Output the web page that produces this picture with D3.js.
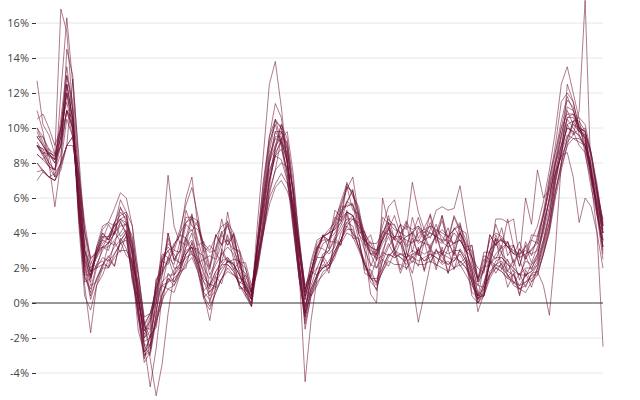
<!DOCTYPE html>
<html><head><meta charset="utf-8">
<script src="https://cdn.jsdelivr.net/npm/d3@7"></script>
<style>body{margin:0;background:#fff}svg{display:block}</style>
</head><body><svg id="c" width="640" height="400"></svg>
<script>
const yTicks = [-4,-2,0,2,4,6,8,10,12,14,16];
const s01 = [12.7,10.2,9.6,8.5,16.8,15.5,11,6.5,3.5,1.5,3.2,4.4, 4.6,4.4,5.9,5.2,4.4,0.8,-1.2,-2.6,0.9,1.6,4,2.4, 3,5.3,4.4,4.2,3.2,2.9,3,4.8,3.5,4,2,1.7, 0.6,3.4,6.4,9.5,11.4,10.6,8,5.6,2.4,-0.6,1.8,3.2, 3.1,2.8,3.2,5.3,5.7,6.5,4,4.1,2.1,2.9,3.7,5, 3.6,4.5,2.9,4.9,3.7,4.3,5,3.4,5,3.7,5,4.2, 4,2.2,1.4,1.9,3.9,3.3,3.7,3.2,3.3,2.1,3.5,2.7, 3.8,5.2,7.2,8.6,10.4,11.8,11,10,9.4,7.8,5.4,3.2];
const s02 = [9,8.5,7.8,7.2,12,16.3,12.5,7.2,3,1.8,2,2.6, 2.4,2.8,3.4,3.8,1.5,-0.8,-3.4,-2.8,-0.8,0.5,1.2,1.4, 1.8,2.8,3.2,2,1.2,0.4,1.2,2.2,2.2,1.8,1,0.6, -0.2,2.2,4.5,7,8.6,9.2,8.6,6.4,3,0.4,1.8,1.6, 2,2.2,3,3.6,4.6,4.4,3.2,2.2,1.2,0.8,2,2.8, 2.6,2.8,2.6,3,2.8,2.4,2.8,2.6,2.2,2.4,2,2.4, 2,1.4,0.4,0.4,1.4,2,2.2,1.6,1,0.8,0.6,1.2, 1.6,2.8,4.2,6.4,8,9.4,10.4,10.6,10.2,8.6,6.8,4.4];
const s03 = [11,9.8,8,5.5,8,14.5,13,8,3,1,1.2,2.2, 2.7,2.1,3.7,3.1,2,-1.6,-2.8,-2,1.4,1.7,4,2.5, 2.3,3.7,2.8,2.5,0.7,1.1,0.9,3.1,2.4,2.3,1.1,1.6, 0.6,2,4.4,7,8.4,9.4,9.2,7,3.4,-0.2,1.4,3, 3.9,3.5,5.3,4.9,6.9,6.1,5.5,3.5,3.9,2.7,4.9,4.5, 4.5,3.6,4.6,2.9,4.3,3.6,4.6,4,5,3.1,4.3,3.8, 2.9,3.3,1.3,2.9,2.9,4.5,3.5,3.5,2.8,3.5,2.5,3.1, 3.4,5,6.6,8.2,10,11.6,11.2,9.6,8.8,7.2,5.8,4];
const s04 = [7,7.5,7.2,7.4,8,9,9.5,7.5,4.6,2.5,3,4.2, 4.6,5.4,6.3,6,4.4,1.8,-1,-3.2,-5.3,-3.5,-0.6,1.6, 2.2,2.6,2.8,2,0.4,-0.2,0.6,1.4,2,1.6,1.4,1.2, 0.6,2,4,6.6,8.8,10.2,9.4,6.4,3,0.6,2.4,3.6, 3.8,4,4.2,5,5.8,6.4,4.8,3.6,3.2,2.4,3.8,4.2, 3.8,3.4,3.8,4,3.4,3.6,3.8,4.2,3.8,3.4,4,3.6, 3,1.8,0.2,0.6,2.4,2,1.8,1.4,1.6,0.8,1.2,1.6, 1.6,2.8,4.2,6.2,8,9.4,10.2,10,9.8,8.4,6.4,4.2];
const s05 = [10,9.2,8.4,8.2,10,13,11,5,1,-1.7,1,2, 3.4,4.6,3.8,4.2,1.4,0.2,-2,-1.2,1,2.8,2.6,3.4, 3.8,6,7.2,4.4,3.3,1.9,3.9,3.3,4.7,3.1,2.9,0.4, 0,3.6,6.8,9.2,10.2,9,7,4.2,1.4,-0.8,0.6,1.6, 2.5,1.7,3.7,3.3,5.1,3.7,3.7,1.7,1.5,0.7,2.5,2.1, 2.9,1.7,2.6,1.7,3.2,1.8,3,1.9,3.2,1.7,3.1,2.1, 2.4,0.4,0,0.4,2.5,2.1,2.9,1.5,1.9,0.5,1.7,0.9, 2,3.4,5,7.4,9,10.6,10.6,10,9.4,7.4,5.2,2.8];
const s06 = [9,8.5,8.8,8.2,9,12.5,10.5,5.5,2,1.2,3.2,4, 3.6,4.4,4.8,4.6,2.8,0.4,-2.2,-2,0,3.5,7.3,4.4, 3.4,4.6,5,3.6,2.4,2,3.2,4,4.4,3.6,2.4,1.2, 0.2,4.5,8.5,12.5,13.8,11.2,8,4.6,1.4,-0.4,1.4,2.8, 3.8,4.2,4.6,5.8,6.8,6.2,5,3.8,2.8,3,3.6,4.6, 3,2.6,2.2,2.8,2.8,2.4,2.6,3,2.6,2.2,2.6,2.4, 2,1.2,0,0.8,1.6,2.2,2.4,1.8,1.6,1,1.6,1.8, 2.2,3.6,5.2,7.2,8.6,9.6,9.4,9.4,9,7.2,5.8,4.4];
const s07 = [9.5,9,8.5,8,9,11,9.5,6,2.4,1.6,3,3.2, 3.8,4,5.2,4.8,3.4,0.6,-2.4,-4.8,-2.6,0.4,1.4,1.2, 1.8,2.8,3.4,2.6,1.8,0.6,1.2,1.8,2.4,2.2,1.6,0.6, 0.2,2.2,4.6,7,9,10.2,9,6.2,1.8,-4.5,-1,1.4, 2.2,2,2.8,4,4.6,5,3.6,2.2,1.6,1.2,2.4,3.2, 3.8,3.8,3.6,3.4,4,4.2,4.4,3.6,3.4,3.8,3.4,4, 3.4,2.6,1.2,1.8,3,3.6,3.6,3.2,2.8,2.8,3,2.8, 3,4.4,6,7.8,9.4,10.6,10.8,10.2,9.6,8.4,6.4,4.4];
const s08 = [8,7.6,7.2,7,7.6,9,9.5,7.5,4,2,2.6,3.2, 3,4.1,3.5,4.1,2.1,1.2,-1.3,-0.6,0,2.4,2.2,3.3, 3.9,3.7,5.1,3.3,3.5,2.1,3.9,3.3,4.5,3.1,3,1.3, 0.6,2.6,4.2,6,6.8,7.4,6.8,5.6,3.4,0.8,1.8,3.2, 3.6,3.6,4.4,4.8,5.2,5,4.2,3.6,3.2,3,4.4,5.5, 5.9,4.5,4.2,6.9,5.2,4.2,4,3.8,4.2,3.8,4.2,4.6, 3.2,3.3,1.4,2.7,2.5,3.9,3.1,3.5,2.1,3.1,2.7,3.9, 3.8,5,6.4,7.4,8.4,9.2,9.6,10,9.8,8.6,6.6,4.6];
const s09 = [8.5,8.2,8.6,8.4,9,12.5,10.5,6,2.4,0.4,1.4,2, 2,2.8,3.4,3.6,1.6,-0.5,-2.8,-2.4,-1,0.5,1.4,1, 1.6,2.4,3,1.8,0.2,-0.4,0.6,1.4,2.2,1.8,1,0.4, -0.2,3,6,8.6,10.4,10,8.4,5.2,2.2,-0.6,1.4,2.6, 2.6,3,3.6,4.2,4.8,4.8,4.4,3.4,2.8,2.6,3.4,4, 3.6,3.4,2.6,1.2,-1.1,0.5,2.2,3,2.8,2.6,2.4,3, 2.4,1.2,0,0.6,1.8,2.2,2,1.6,1.2,0.8,1,1.6, 2.2,3.2,4.6,6.8,8.6,10.2,10.4,9.8,9.4,7.8,6.2,3.6];
const s10 = [9,8.8,8,7.6,9.5,11,10,5,1.2,1.4,2.8,3.6, 4.5,3.9,5.5,4.6,3.6,0,-1.4,-1.5,1.3,1.9,3.7,2.5, 3,4.9,4.9,4.7,2.5,2.7,2.5,3.9,3.3,3.9,2.3,2, 0.6,3.2,5.4,8.2,9.8,9.2,7.4,4.4,1.4,-0.6,0.6,1.4, 2.7,2.1,3.5,3.3,5.3,3.9,3.7,1.9,1.9,1.1,2.9,2.7, 3,2.8,2.8,2.6,3,3.4,4.2,5.3,5.5,5.3,5.4,6.7, 4.6,2.6,2,1.7,3.9,3.3,4.3,2.7,3.3,2.1,3.3,2.3, 3.2,4.2,6,8,9.6,11.2,11,10,9.2,7.4,5.2,3.2];
const s11 = [8.5,8.2,7.8,7.6,8.5,11,10,6.5,2.6,1.8,2.6,3.8, 3.6,4.6,5,5.2,3.2,1,-1.6,-1,0.4,2.6,3.2,2.8, 2.2,3,3.2,2.2,1.2,0.8,1.6,2,2.4,2.2,1.6,1, 0.4,2.6,4.8,7,8.4,8.8,7.6,5.6,3,0.4,1.8,3, 3.8,3.6,4.4,5.2,5.6,5.6,4.6,3.6,2.8,2.8,3.6,4.4, 2.8,2.6,2.4,2.6,2.4,2.6,2.8,2.6,2.4,2.2,2.4,2.8, 2.2,1.2,0.2,1,2.2,2.8,3.2,4.8,3.2,2.6,6,4.5, 7.6,6,6.5,8,9,10,9.8,9.6,9,8,6.5,4.5];
const s12 = [9,8.6,8.5,8.2,9.5,12,10.5,6,2,0.2,1.4,2.2, 2.1,3.5,2.9,3.9,1.2,-0.2,-3.2,-1.8,-1.4,1,1.2,1.9, 2.2,3.2,3.6,2.8,1.6,1,1.8,2.2,2.6,2,1,0.6, 0,2.4,5,8,9,9.4,8,5.2,2.2,0.2,1.8,3, 3.9,3.1,4.9,4.7,6.7,5.3,5.1,3.3,3.5,2.5,4.1,3.9, 3.7,4.5,3.3,4.1,3.5,4.1,3.7,4.5,3.5,4.3,3.1,4.5, 3,2.6,0.4,2.1,2.1,3.7,1.9,2.5,1.1,1.7,0.9,1.7, 1.8,1,-0.7,3,8,12.5,11.5,10,9,7.5,5.5,3];
const s13 = [10,9.5,8.6,8,9.5,12,10,5.5,2.2,1.4,2.8,4, 3.6,4.2,4.8,4.4,2.8,0.4,-2,-1.6,-0.4,1.2,1.6,1.6, 2,2.8,3.2,2.2,1.4,1,1.8,2.4,2.6,2.2,1.6,1, 0.4,3.4,6,8,9.8,9.8,8.2,5,1.8,-0.2,0.8,1.6, 2,2.4,3,3.6,4.2,4.2,3.2,2.2,1.4,1.4,2,2.8, 2.6,2.8,2.6,2.8,3,2.8,3,2.8,3,2.8,3,3, 2.4,1.4,0.4,1.2,2.2,2.6,2.6,2.2,1.8,1.6,2,2, 2.6,3.6,5,7,8.6,10.2,9.6,11,17.3,7,4,-2.5];
const s14 = [8,7.5,7.2,7,7.8,9,9,7,4.2,2.4,2,2.2, 2.6,3.2,3.6,4,3.4,1.6,-0.8,-0.6,0.8,1.8,2.4,3, 2.9,4.5,4.1,4.7,2.9,3.3,2.9,4.1,3.3,3.9,2.3,2.3, 1,2.4,4,5.6,6.6,7,6.4,5.4,3.4,1,1.8,2.6, 3.4,3.6,4,4.6,5.2,5,4.4,3.8,3,2.8,3.6,4.2, 5,3.9,4.7,3.9,4.9,3.7,5.1,3.9,4.7,3.5,4.9,4.1, 3.1,3,1.2,2.5,2.3,3.7,2.9,3.5,2.3,3.1,2.5,3.6, 3.4,4.6,5.8,7.4,8.4,8.6,7.2,4.6,6,5.5,4,2];
const s15 = [9.5,9.5,8.8,8.5,10,13,11.5,7,3,2.2,3,3.6, 3.4,4,4.6,4,2,-0.8,-3,-2.8,-0.6,2.5,3,2, 2,3.2,4,2.4,0.5,-1,1,3,5.2,3.4,1.6,0.8, 0.2,3.6,7,9.5,10.5,10,8.8,6,2.5,-1.5,0.4,1.5, 2.5,3.5,4.5,5.5,6.5,7.2,5,3,0.5,0,6,4.5, 3.6,3.8,3.2,3.5,3.6,3.4,3.3,3.8,3.5,3.2,3.4,3.6, 3,2,-0.5,0.5,2.5,4.8,4.8,4.6,4.8,2.5,1.5,2.2, 2.5,4.5,7,9,11.5,12,11.5,10,9.5,7.5,5,2.5];
const s16 = [9,8.4,7.8,7.6,10,12.5,10.5,4.5,0.4,-0.4,1,1.6, 2.5,2.1,3.5,2.7,2.4,-0.8,-2.4,-3,-1,0,1.7,1.2, 1.9,3.7,3.1,3.1,0.3,0.7,0.9,2.9,2.3,2.5,0.8,0.9, -0.2,2.8,5.8,8.4,9.4,9.2,7.4,4.6,1.6,-1.2,0.4,1, 1.8,2,2.8,3.6,4.4,4,3.2,2.4,1.4,1,1.8,2.6, 3.1,1.9,2.9,2.3,3.1,1.9,3.3,2.1,2.9,1.7,2.9,2.3, 2.6,0.6,0.3,0.4,2.4,1.7,2.3,0.9,1.7,0.4,1.9,1.2, 2,3,4.4,7,8.8,10,9.8,9,8.6,6.6,5,3.6];
const s17 = [10.5,10.8,10,9,10,11.5,9.8,5.4,1.6,1.6,3,3.8, 3.8,4.4,4.8,5,3,0.4,-1.8,-1,0.6,2.4,3.4,3, 4,4.6,4.8,4.4,3.4,3,3.8,4.4,4.6,4,3,2, 0.8,3.2,5.2,7.4,8.8,9.8,8.8,6.4,3,0.2,1.8,3.2, 3.8,4,4.2,4.6,5.8,5.6,4.8,4,3.2,3,4,4.6, 4.2,4,4.4,4.2,4.4,3.8,4,3.8,3.6,3.6,3.4,3.6, 3,2,1,2,3,3.4,3.6,3.2,2.8,2.6,2.8,3, 3.6,5,6.8,8.6,10,10.8,10.8,9.8,9.6,7.2,5.2,3.2];
const s18 = [9.5,9,8.5,8.2,10.5,13.5,11,5,1.5,0.6,2,3.2, 3.4,4,4.4,4.5,2.2,-0.2,-3,-2.6,-0.6,1.6,2.6,2.2, 3.5,3.3,4.9,2.9,2.7,0.9,2.9,2.3,3.9,2.5,2.4,0.9, 0.2,3.2,6.2,9,10.5,9.2,8.2,5,1.8,-1,0.8,1.6, 2.5,3.5,3.5,5.5,5.5,5.7,3.9,3.5,1.5,2.5,2.7,4.3, 3.1,3.9,2.5,3.9,2.7,3.9,3.1,4,2.8,3.5,2.8,4.1, 2.6,1.6,0.2,1,2.4,3.4,2.8,2.4,2,1.6,2.4,2.2, 2.8,4.2,6,8,9.6,11,10.2,9.8,10,7.5,6,4];
const s19 = [7.5,7.6,7.2,7,8,10.5,9.5,6,2.5,1.5,2.2,2.4, 2,2.6,3,3,2.4,0.8,-1.2,-0.6,0.6,1,0.8,0.6, 1.6,2.2,2.6,1.8,0.6,0.2,0.8,1.4,1.8,1.6,1.2,1, 0.6,2.4,4.2,6.4,7.6,8,7.8,6.6,3.8,0.8,1.6,2, 2,2.2,2.8,3.4,4,3.8,3,2.2,1.4,1.2,1.8,2.4, 2.2,2.2,2,2.4,2.2,2.2,2.4,2.2,2,1.8,2,2.2, 1.6,1,0.4,0.8,1.6,2,1.8,1.4,1.2,1,1.2,1.4, 1.8,2.8,4,6,7.6,9,9.4,9.2,9,7.6,6.2,4.8];
const s20 = [9,8.8,8.6,8.4,9.8,12,10,5.5,1.5,0.8,2.2,3, 3.5,3.3,4.7,3.9,3,-0.4,-2.4,-2.4,0.2,1,2.6,1.6, 2.8,3.8,4.2,3.2,2,1.4,2.2,2.8,3.2,2.8,1.8,1, 0.2,3,5.5,8,9.5,9.5,8,5,2,-0.8,1,2, 2.8,3,3.8,4.4,5.2,5,4,3,2.2,2,3,3.8, 3,3.7,2.5,3.7,2.8,3.7,3,3.9,2.7,3.5,2.7,4, 3.3,1.4,1,0.9,2.9,2.5,3.3,1.8,2.5,1.3,2.7,1.9, 2.8,4,5.5,7.5,9,10.5,10,9.5,9,7.5,5.5,3.5];
const s21 = [9.2,8.6,8,7.6,9,11,10.5,6.5,3,1.8,2.8,3.4, 3.8,4.6,5.4,5,2.6,0.2,-1.6,-0.8,1,2.4,3,3.2, 4.2,5.6,6.6,5,3,1.6,2.4,3.4,3.6,3,2.2,0.8, 0.4,3.4,5.6,7.6,8.4,8.2,7,5,3,0.6,2.2,3.4, 3.8,4,4.8,5.6,6.6,6.4,5.2,4,3.4,3.4,4,4.8, 4.4,4,3.8,4,4.4,4,4.4,4.2,4,3.8,4.2,4.4, 3.6,2.6,1.4,2.2,3.6,4,3.8,3.2,3,2.8,3.2,3.6, 4.4,5.8,7.6,9.8,12.5,13.5,12,10.5,8.5,7,5.5,4];
const s22 = [9.8,9,8.4,7.2,8,9,12.8,8.5,4,2.6,2.8,3.2, 3.2,3.6,4,4.6,3.8,1.6,-1.2,-2,-1.2,0.2,0.8,1, 1.8,2,3.5,2.3,2.5,0,1.5,1.1,2.5,1.9,2.4,0.7, 0.6,1.8,4,6.2,7.6,9.4,9.8,7.4,3.6,0.8,0.4,1.2, 1.6,2,2.6,3.6,4.4,4.8,4.6,3.8,2.8,2,2.6,3.4, 2.7,3.5,1.9,2.7,2.1,3.5,2.3,3.1,2.3,3.1,1.9,3.1, 2.6,1.8,0.6,0.4,1.6,2.4,2.6,2.2,2,1.6,1.6,1.8, 2.4,3.4,4.6,6.4,7.8,9,10.4,10.4,9.8,8.6,6.4,4];
const seriesList = [s01,s02,s03,s04,s05,s06,s07,s08,s09,s10,s11,s12,s13,s14,s15,s16,s17,s18,s19,s20,s21,s22];

const svg = d3.select("#c");
const y = d3.scaleLinear().domain([-4,16]).range([373,23]);
const x = d3.scaleLinear().domain([0,95]).range([37,603]);

const grid = svg.append("g");
grid.selectAll("line").data(yTicks.filter(d=>d!==0)).join("line")
  .attr("x1",37).attr("x2",603).attr("y1",d=>y(d)).attr("y2",d=>y(d))
  .attr("stroke","#e6e6e6").attr("stroke-width",1);

const ax = svg.append("g").attr("transform","translate(37,0)")
  .call(d3.axisLeft(y).tickValues(yTicks).tickFormat(d=>d+"%").tickSize(5).tickPadding(3));
ax.select(".domain").remove();
ax.selectAll("line").attr("stroke","#333");
ax.selectAll("text").attr("fill","#444").style("font-family","'Open Sans', sans-serif").style("font-size","11px");
ax.selectAll(".tick line").attr("x1",-5).attr("x2",-1);

svg.append("line").attr("x1",32).attr("x2",603).attr("y1",y(0)).attr("y2",y(0))
  .attr("stroke","#333").attr("stroke-width",1.2);

const line = d3.line().x((d,i)=>x(i)).y(d=>y(d));
svg.append("g").selectAll("path").data(seriesList).join("path")
  .attr("d",line).attr("fill","none")
  .attr("stroke","#6e0f33").attr("stroke-opacity",0.55).attr("stroke-width",1);
</script></body></html>
